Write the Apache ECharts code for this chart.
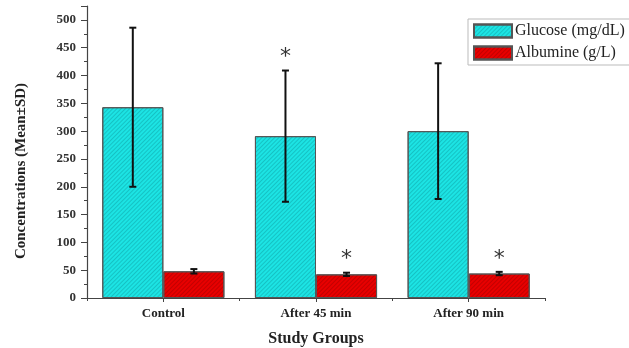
<!DOCTYPE html>
<html>
<head>
<meta charset="utf-8">
<script src="https://cdn.jsdelivr.net/npm/echarts@6/dist/echarts.min.js"></script>
<style>html,body{margin:0;padding:0;background:#fff;}#c{width:629px;height:348px;}</style>
</head>
<body>
<div id="c"></div>
<script>
var categories = ['Control', 'After 45 min', 'After 90 min'];
var glucoseMean = [343, 291, 300];
var glucoseSD = [143, 118, 122];
var albuminMean = [48, 42.5, 44];
var albuminSD = [4, 3, 3];
var glucoseStar = [false, true, false];
var albuminStar = [false, true, true];
var seriesNames = ['Glucose (mg/dL)', 'Albumine (g/L)'];
var yTicks = [0, 50, 100, 150, 200, 250, 300, 350, 400, 450, 500];

var serif = '"Liberation Serif", "DejaVu Serif", serif';
var chart = echarts.init(document.getElementById('c'), null, {renderer: 'canvas'});

function hatch(col) {
  return {
    symbol: 'rect',
    symbolSize: 1,
    dashArrayX: [1, 0],
    dashArrayY: [1, 2],
    rotation: -Math.PI / 4,
    color: col
  };
}

function errRender(seriesIdx, means, sds) {
  return function (params, api) {
    var i = api.value(0);
    var m = means[i], s = sds[i];
    var bw = api.size([1, 0])[0];
    var off = bw * 0.8 / 4 * (seriesIdx === 0 ? -1 : 1);
    var top = api.coord([i, m + s]);
    var bot = api.coord([i, m - s]);
    var x = top[0] + off;
    var cap = 3.5;
    var st = {stroke: '#111', lineWidth: 2};
    return {
      type: 'group',
      children: [
        {type: 'line', shape: {x1: x, y1: top[1], x2: x, y2: bot[1]}, style: st},
        {type: 'line', shape: {x1: x - cap, y1: top[1], x2: x + cap, y2: top[1]}, style: st},
        {type: 'line', shape: {x1: x - cap, y1: bot[1], x2: x + cap, y2: bot[1]}, style: st}
      ]
    };
  };
}

function starRender(seriesIdx, means, sds, flags) {
  return function (params, api) {
    var i = api.value(0);
    if (!flags[i]) return null;
    var bw = api.size([1, 0])[0];
    var off = bw * 0.8 / 4 * (seriesIdx === 0 ? -1 : 1);
    var top = api.coord([i, means[i] + sds[i]]);
    return {
      type: 'text',
      style: {
        x: top[0] + off,
        y: top[1] - 13,
        text: '*',
        fill: '#333',
        font: '22px "DejaVu Sans", sans-serif',
        align: 'center',
        verticalAlign: 'middle'
      }
    };
  };
}

var idx = categories.map(function (c, i) { return [i]; });

chart.setOption({
  animation: false,
  backgroundColor: '#fff',
  grid: {left: 87, right: 84, top: 6, bottom: 50, containLabel: false, outerBoundsMode: 'none'},
  legend: {
    data: seriesNames,
    orient: 'vertical',
    left: 468,
    top: 19,
    icon: 'rect',
    itemWidth: 38,
    itemHeight: 13,
    itemGap: 6,
    padding: [4, 8, 4, 5],
    borderColor: '#bbb',
    borderWidth: 1,
    backgroundColor: '#fff',
    textStyle: {fontFamily: serif, fontSize: 16, color: '#222', padding: [0, 0, 0, -2]}
  },
  xAxis: [
    {
      type: 'category',
      data: categories,
      name: 'Study Groups',
      nameLocation: 'middle',
      nameGap: 33,
      nameTextStyle: {fontFamily: serif, fontSize: 16, fontWeight: 'bold', color: '#222'},
      axisLine: {lineStyle: {color: '#444', width: 1}},
      axisTick: {show: true, length: 3, lineStyle: {color: '#444'}},
      axisLabel: {fontFamily: serif, fontSize: 13, fontWeight: 'bold', color: '#222', margin: 9}
    },
    {
      type: 'category',
      data: categories,
      position: 'bottom',
      axisLine: {show: false},
      axisTick: {show: true, alignWithLabel: true, length: 4, lineStyle: {color: '#444'}},
      axisLabel: {show: false}
    }
  ],
  yAxis: {
    type: 'value',
    min: 0,
    max: 525,
    interval: 50,
    name: 'Concentrations (Mean\u00b1SD)',
    nameLocation: 'middle',
    nameGap: 58,
    nameTextStyle: {fontFamily: serif, fontSize: 15, fontWeight: 'bold', color: '#222', padding: [0, 38, 0, 0]},
    splitLine: {show: false},
    axisLine: {show: true, lineStyle: {color: '#444', width: 1.2}},
    axisTick: {show: true, inside: false, length: 6, lineStyle: {color: '#444'}},
    minorTick: {show: true, splitNumber: 2, length: 3, lineStyle: {color: '#444'}},
    axisLabel: {
      fontFamily: serif, fontSize: 13, fontWeight: 'bold', color: '#333', margin: 11,
      formatter: function (v) { return yTicks.indexOf(v) >= 0 ? String(v) : ''; }
    }
  },
  series: [
    {
      name: seriesNames[0],
      type: 'bar',
      data: glucoseMean,
      barGap: '0%',
      barCategoryGap: '20%',
      itemStyle: {color: '#1CE4E4', borderColor: '#555', borderWidth: 1, decal: hatch('rgba(0,90,100,0.25)')}
    },
    {
      name: seriesNames[1],
      type: 'bar',
      data: albuminMean,
      itemStyle: {color: '#E80000', borderColor: '#555', borderWidth: 1, decal: hatch('rgba(110,0,0,0.3)')}
    },
    {type: 'custom', renderItem: errRender(0, glucoseMean, glucoseSD), data: idx, encode: {x: 0}, z: 5},
    {type: 'custom', renderItem: errRender(1, albuminMean, albuminSD), data: idx, encode: {x: 0}, z: 5},
    {type: 'custom', renderItem: starRender(0, glucoseMean, glucoseSD, glucoseStar), data: idx, encode: {x: 0}, z: 6},
    {type: 'custom', renderItem: starRender(1, albuminMean, albuminSD, albuminStar), data: idx, encode: {x: 0}, z: 6}
  ]
});
</script>
</body>
</html>
